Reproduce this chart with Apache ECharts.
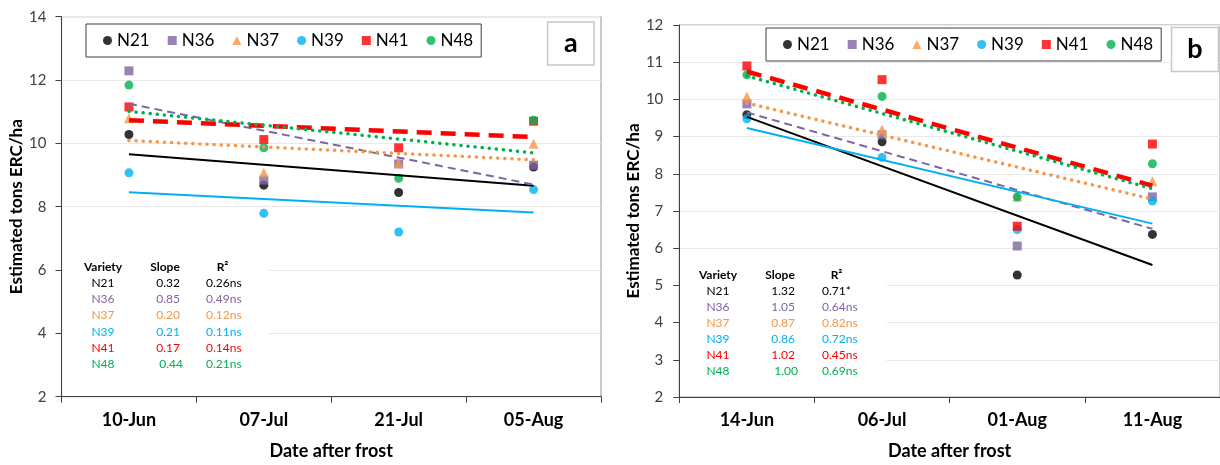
<!DOCTYPE html>
<html><head><meta charset="utf-8">
<script src="https://cdn.jsdelivr.net/npm/echarts@6/dist/echarts.min.js"></script>
<style>html,body{margin:0;padding:0;background:#fff}#c{width:1220px;height:465px}</style>
</head><body><div id="c"></div>
<script>
// ---------- data ----------
const varieties = ['N21', 'N36', 'N37', 'N39', 'N41', 'N48'];
const datesA = ['10-Jun', '07-Jul', '21-Jul', '05-Aug'];
const datesB = ['14-Jun', '06-Jul', '01-Aug', '11-Aug'];

// Panel a: observed values
const a_N21 = [10.28, 8.68, 8.45, 9.25];
const a_N36 = [12.29, 8.84, 9.35, 9.31];
const a_N37 = [10.79, 9.07, 9.38, 9.99];
const a_N39 = [9.07, 7.79, 7.20, 8.54];
const a_N41 = [11.15, 10.12, 9.86, 10.70];
const a_N48 = [11.84, 9.86, 8.90, 10.73];
// Panel a: trendline values at first and last date
const trendA_first = [9.66, 11.25, 10.09, 8.46, 10.73, 11.01];
const trendA_last  = [8.66, 8.70, 9.48, 7.82, 10.20, 9.70];

// Panel b: observed values
const b_N21 = [9.59, 8.86, 5.28, 6.37];
const b_N36 = [9.88, 9.05, 6.06, 7.38];
const b_N37 = [10.08, 9.19, 7.38, 7.80];
const b_N39 = [9.48, 8.44, 6.50, 7.27];
const b_N41 = [10.90, 10.53, 6.59, 8.80];
const b_N48 = [10.66, 10.08, 7.38, 8.27];
const trendB_first = [9.53, 9.65, 9.90, 9.23, 10.75, 10.63];
const trendB_last  = [5.55, 6.52, 7.32, 6.66, 7.68, 7.60];

// Tables
const slopeA = ['0.32', '0.85', '0.20', '0.21', '0.17', '0.44'];
const r2A    = ['0.26ns', '0.49ns', '0.12ns', '0.11ns', '0.14ns', '0.21ns'];
const slopeB = ['1.32', '1.05', '0.87', '0.86', '1.02', '1.00'];
const r2B    = ['0.71*', '0.64ns', '0.82ns', '0.72ns', '0.45ns', '0.69ns'];

const yTicksA = {min: 2, max: 14, interval: 2};
const yTicksB = {min: 2, max: 12, interval: 1};

// ---------- styles ----------
const colors = ['#000000', '#8064A2', '#F79646', '#00B0F0', '#FF0000', '#00B050'];
const tableColors = ['#000000', '#8064A2', '#F79646', '#00B0F0', '#FF0000', '#00B050'];
const symbols = ['circle', 'rect', 'triangle', 'circle', 'rect', 'circle'];
const symbolSizes = [9, 9, 10, 9, 9, 9];
const lineStyles = [
  {width: 2, type: 'solid'},
  {width: 2, type: [8, 5]},
  {width: 3.5, type: [0.1, 7], cap: 'round'},
  {width: 2, type: 'solid'},
  {width: 4.5, type: [15, 9]},
  {width: 3.5, type: [0.1, 7], cap: 'round'}
];
const FONT = 'Lato';
const valsA = [a_N21, a_N36, a_N37, a_N39, a_N41, a_N48];
const valsB = [b_N21, b_N36, b_N37, b_N39, b_N41, b_N48];

function makeSeries(vals, tFirst, tLast, idx) {
  const s = [];
  varieties.forEach((v, i) => {
    s.push({
      type: 'scatter', name: v, xAxisIndex: idx, yAxisIndex: idx,
      data: vals[i], symbol: symbols[i], symbolSize: symbolSizes[i],
      itemStyle: {color: colors[i]}, z: 2 + i * 0.01, silent: true
    });
  });
  varieties.forEach((v, i) => {
    const d = [tFirst[i], null, null, tLast[i]];
    s.push({
      type: 'line', name: v + ' trend ' + idx, xAxisIndex: idx, yAxisIndex: idx,
      data: d, connectNulls: true, showSymbol: false, symbol: 'none',
      lineStyle: Object.assign({color: colors[i]}, lineStyles[i]),
      z: 3 + i * 0.01, silent: true
    });
  });
  return s;
}

function xAxisCfg(dates, grid) {
  return {
    type: 'category', gridIndex: grid, data: dates, boundaryGap: true,
    axisLine: {lineStyle: {color: '#404040', width: 1}},
    axisTick: {show: true, length: 6, lineStyle: {color: '#404040'}},
    axisLabel: {fontFamily: FONT, fontWeight: 'bold', fontSize: 18, color: '#000', margin: 14},
    name: 'Date after frost', nameLocation: 'middle', nameGap: 45,
    nameTextStyle: {fontFamily: FONT, fontWeight: 'bold', fontSize: 18, color: '#000'}
  };
}
function yAxisCfg(t, grid, gap, margin) {
  return {
    type: 'value', gridIndex: grid, min: t.min, max: t.max, interval: t.interval,
    axisLine: {show: true, lineStyle: {color: '#404040', width: 1}},
    axisTick: {show: true, length: 6, lineStyle: {color: '#404040'}},
    axisLabel: {fontFamily: FONT, fontSize: 15, color: '#404040', margin: margin},
    splitLine: {show: true, lineStyle: {color: '#e9e9e9', width: 1}},
    name: 'Estimated tons ERC/ha', nameLocation: 'middle', nameGap: gap, nameRotate: 90,
    nameTextStyle: {fontFamily: FONT, fontWeight: 'bold', fontSize: 17, color: '#000'}
  };
}

function legendCfg(left, top) {
  return {
    data: varieties.map((n, i) => ({name: n, icon: symbols[i]})),
    left: left, top: top, orient: 'horizontal',
    itemWidth: 9, itemHeight: 9, itemGap: 18,
    padding: [7, 8, 7, 17],
    borderColor: '#404040', borderWidth: 1, backgroundColor: '#fff',
    selectedMode: false,
    textStyle: {fontFamily: FONT, fontSize: 17, color: '#000', lineHeight: 19}
  };
}

function tableGraphics(yHeader, rowH, cVar, slopeRight, r2Left, r2HeadC, slopes, r2s, rect) {
  const g = [];
  g.push({type: 'rect', shape: rect, style: {fill: '#fff'}, z: 1, silent: true});
  const hs = {fontFamily: FONT, fontWeight: 'bold', fontSize: 12, fill: '#000'};
  g.push({type: 'text', x: cVar, y: yHeader, style: Object.assign({text: 'Variety', align: 'center', verticalAlign: 'middle'}, hs), z: 5});
  g.push({type: 'text', x: slopeRight - 15, y: yHeader, style: Object.assign({text: 'Slope', align: 'center', verticalAlign: 'middle'}, hs), z: 5});
  g.push({type: 'text', x: r2HeadC, y: yHeader, style: Object.assign({text: 'R²', align: 'center', verticalAlign: 'middle'}, hs), z: 5});
  varieties.forEach((v, i) => {
    const y = yHeader + rowH * (i + 1);
    const st = {fontFamily: FONT, fontSize: 12, fill: tableColors[i], verticalAlign: 'middle'};
    g.push({type: 'text', x: cVar, y: y, style: Object.assign({text: v, align: 'center'}, st), z: 5});
    g.push({type: 'text', x: slopeRight + (i === 5 ? 3 : 0), y: y, style: Object.assign({text: slopes[i], align: 'right'}, st), z: 5});
    g.push({type: 'text', x: r2Left, y: y, style: Object.assign({text: r2s[i], align: 'left'}, st), z: 5});
  });
  return g;
}

function panelLabel(x, y, w, h, letter) {
  return [
    {type: 'rect', shape: {x: x, y: y, width: w, height: h}, style: {fill: '#fff', stroke: '#c8c8c8', lineWidth: 1.5}, z: 5},
    {type: 'text', x: x + w / 2, y: y + h / 2, style: {text: letter, align: 'center', verticalAlign: 'middle', fontFamily: FONT, fontWeight: 'bold', fontSize: 27, fill: '#000'}, z: 6}
  ];
}

const graphics = []
  .concat(tableGraphics(267, 16.2, 103, 180, 206, 222.5, slopeA, r2A, {x: 63, y: 256, width: 205, height: 117}))
  .concat(tableGraphics(275, 16, 718, 795, 822, 836.5, slopeB, r2B, {x: 680.5, y: 264, width: 206, height: 117}))
  .concat(panelLabel(547.5, 22, 46.5, 43, 'a'))
  .concat(panelLabel(1171.5, 27.5, 47, 44, 'b'));

const option = {
  animation: false,
  backgroundColor: '#fff',
  grid: [
    {left: 61.5, top: 16.7, width: 539.5, height: 380, show: true, borderColor: '#a6a6a6', borderWidth: 1.2, backgroundColor: 'transparent'},
    {left: 679.3, top: 25, width: 543, height: 373.3, show: true, borderColor: '#a6a6a6', borderWidth: 1.2, backgroundColor: 'transparent'}
  ],
  xAxis: [xAxisCfg(datesA, 0), xAxisCfg(datesB, 1)],
  yAxis: [yAxisCfg(yTicksA, 0, 36, 15), yAxisCfg(yTicksB, 1, 37, 16)],
  legend: [legendCfg(86, 24), legendCfg(766, 28)],
  series: makeSeries(valsA, trendA_first, trendA_last, 0).concat(makeSeries(valsB, trendB_first, trendB_last, 1)),
  graphic: graphics
};
const chart = echarts.init(document.getElementById('c'), null, {renderer: 'canvas'});
chart.setOption(option);
</script>
</body></html>
